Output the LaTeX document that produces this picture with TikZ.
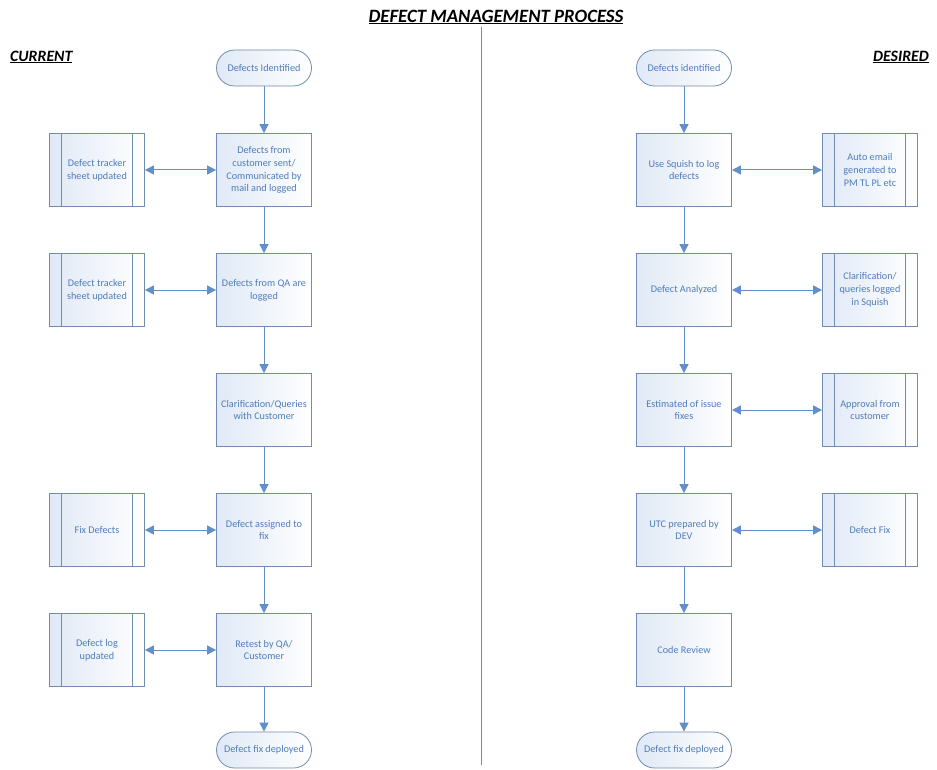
\documentclass[tikz,border=0pt]{standalone}
\usepackage{fontspec}
\setmainfont{Carlito}
\usetikzlibrary{arrows.meta}
\definecolor{flowtext}{RGB}{79,125,185}
\definecolor{flowline}{RGB}{98,143,200}
\definecolor{flowedge}{RGB}{112,140,176}
\definecolor{flowfill}{RGB}{224,233,246}
\tikzset{
  procbox/.style={rectangle, draw=flowedge, line width=0.8pt, left color=flowfill, right color=white,
    minimum width=95pt, minimum height=73pt, align=center, text=flowtext, inner sep=2pt,
    font=\fontsize{10.2}{12.8}\selectfont},
  predef/.style={procbox, path picture={
    \draw[flowedge, line width=0.8pt]
      ([xshift=12pt]path picture bounding box.north west) -- ([xshift=12pt]path picture bounding box.south west)
      ([xshift=-12pt]path picture bounding box.north east) -- ([xshift=-12pt]path picture bounding box.south east);}},
  terminal/.style={procbox, rounded corners=18pt, minimum height=36pt},
  flow/.style={draw=flowline, line width=1pt, -{Triangle[width=9pt,length=9pt]}},
  both/.style={flow, {Triangle[width=9pt,length=9pt]}-{Triangle[width=9pt,length=9pt]}},
  heading/.style={font=\fontsize{15.8}{18}\selectfont\bfseries\itshape, inner sep=0pt}
}
\begin{document}
\begin{tikzpicture}[x=1pt, y=-1pt]
  \useasboundingbox (0,0) rectangle (937,770);
  \node (title) [heading, font=\fontsize{18.8}{21}\selectfont\bfseries\itshape] at (496,17) {\underline{DEFECT MANAGEMENT PROCESS}};
  \node (current) [heading, anchor=west] at (10,57) {\underline{CURRENT}};
  \node (desired) [heading, anchor=east] at (929,57) {\underline{DESIRED}};
  \coordinate (divtop) at (481,27);
  \coordinate (divbot) at (481,765);
  \draw[flowline, line width=1pt] (divtop) -- (divbot);

  % current process
  \node (cstart) [terminal] at (264,68) {Defects Identified};
  \node (cmail) [procbox] at (264,170) {Defects from\\customer sent/\\Communicated by\\mail and logged};
  \node (cqa) [procbox] at (264,290) {Defects from QA are\\logged};
  \node (cclar) [procbox] at (264,410) {Clarification/Queries\\with Customer};
  \node (cassign) [procbox] at (264,530) {Defect assigned to\\fix};
  \node (cretest) [procbox] at (264,650) {Retest by QA/\\Customer};
  \node (cend) [terminal] at (264,750) {Defect fix deployed};
  \node (ctrack) [predef] at (97,170) {Defect tracker\\sheet updated};
  \node (ctrackqa) [predef] at (97,290) {Defect tracker\\sheet updated};
  \node (cfix) [predef] at (97,530) {Fix Defects};
  \node (clog) [predef] at (97,650) {Defect log\\updated};

  \draw[flow] (cstart) -- (cmail);
  \draw[flow] (cmail) -- (cqa);
  \draw[flow] (cqa) -- (cclar);
  \draw[flow] (cclar) -- (cassign);
  \draw[flow] (cassign) -- (cretest);
  \draw[flow] (cretest) -- (cend);
  \draw[both] (ctrack) -- (cmail);
  \draw[both] (ctrackqa) -- (cqa);
  \draw[both] (cfix) -- (cassign);
  \draw[both] (clog) -- (cretest);

  % desired process
  \node (dstart) [terminal] at (684,68) {Defects identified};
  \node (dsquish) [procbox] at (684,170) {Use Squish to log\\defects};
  \node (danalyze) [procbox] at (684,290) {Defect Analyzed};
  \node (destimate) [procbox] at (684,410) {Estimated of issue\\fixes};
  \node (dutc) [procbox] at (684,530) {UTC prepared by\\DEV};
  \node (dreview) [procbox] at (684,650) {Code Review};
  \node (dend) [terminal] at (684,750) {Defect fix deployed};
  \node (dmail) [predef] at (870,170) {Auto email\\generated to\\PM TL PL etc};
  \node (dquery) [predef] at (870,290) {Clarification/\\queries logged\\in Squish};
  \node (dapprove) [predef] at (870,410) {Approval from\\customer};
  \node (dfix) [predef] at (870,530) {Defect Fix};

  \draw[flow] (dstart) -- (dsquish);
  \draw[flow] (dsquish) -- (danalyze);
  \draw[flow] (danalyze) -- (destimate);
  \draw[flow] (destimate) -- (dutc);
  \draw[flow] (dutc) -- (dreview);
  \draw[flow] (dreview) -- (dend);
  \draw[both] (dsquish) -- (dmail);
  \draw[both] (danalyze) -- (dquery);
  \draw[both] (destimate) -- (dapprove);
  \draw[both] (dutc) -- (dfix);
\end{tikzpicture}
\end{document}
